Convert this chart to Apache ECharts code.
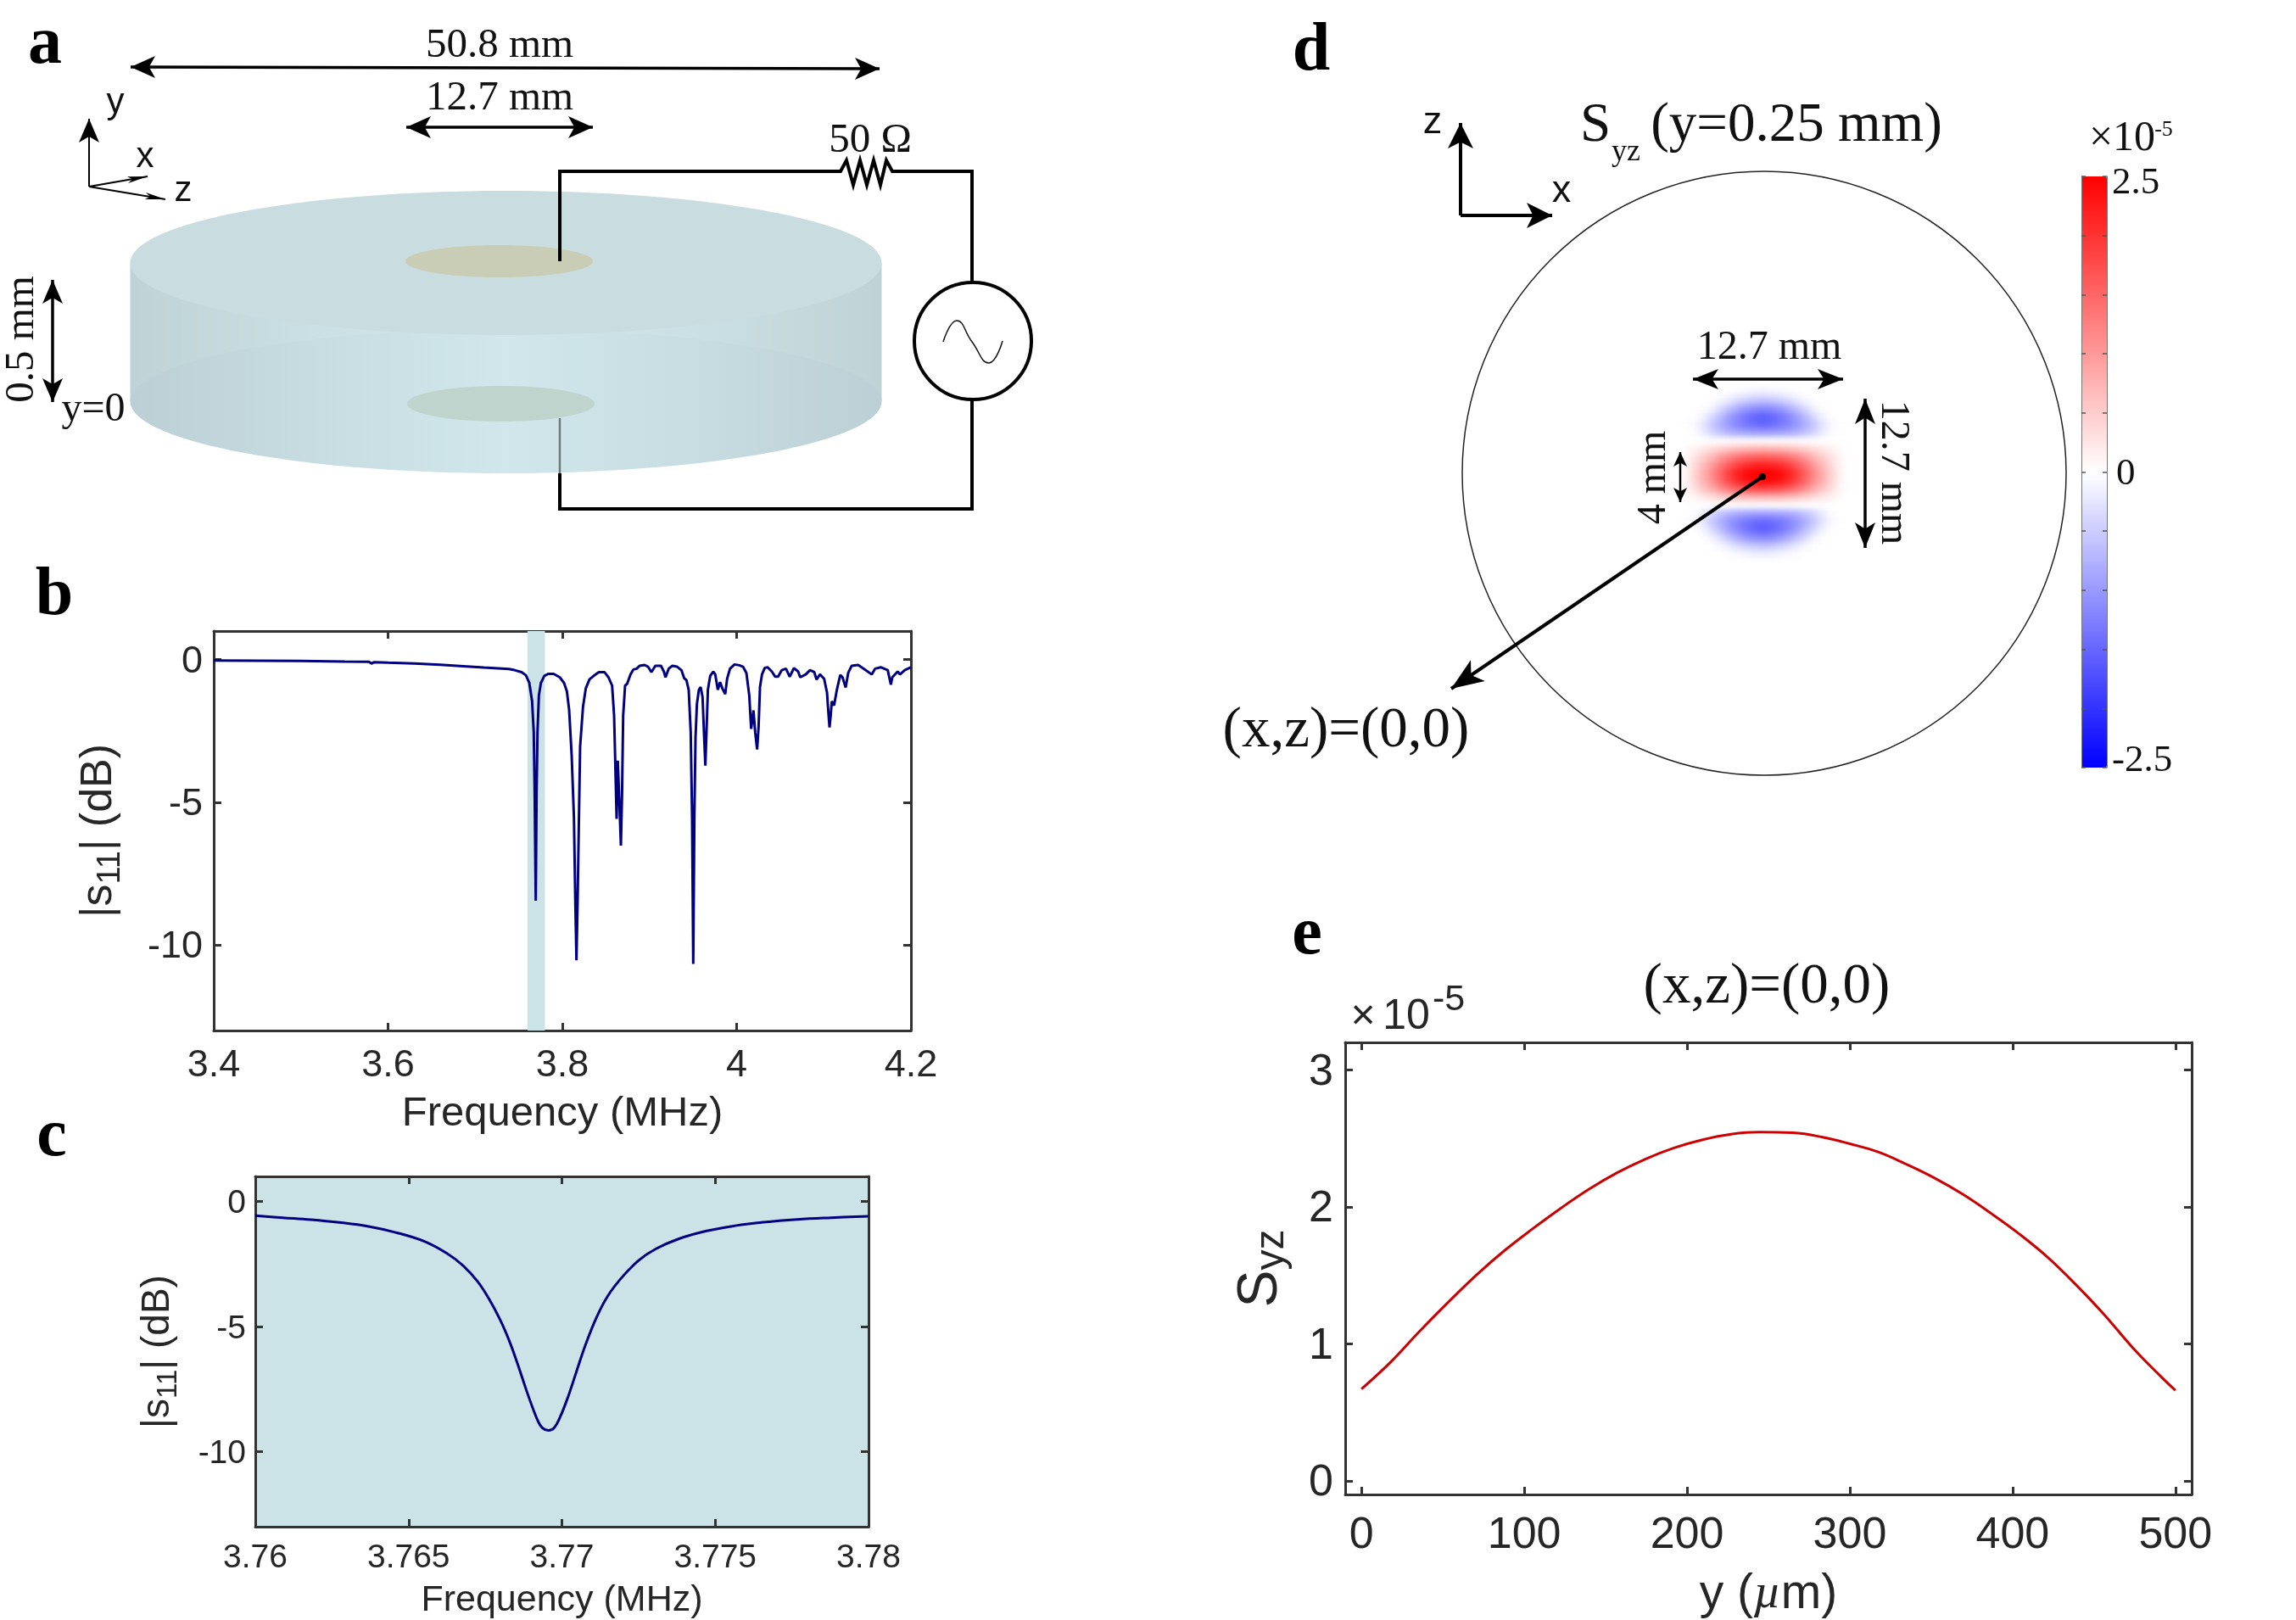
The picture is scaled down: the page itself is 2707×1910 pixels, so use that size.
<!DOCTYPE html>
<html>
<head>
<meta charset="utf-8">
<title>Panels a-e</title>
<script src="https://cdn.jsdelivr.net/npm/echarts@6/dist/echarts.min.js"></script>
<style>
  html, body { margin: 0; background: #fff; }
  #heat { position: absolute; left: 1974px; top: 458px; width: 210px; height: 200px; filter: blur(3.5px); }
  #main { position: absolute; left: 0; top: 0; width: 2707px; height: 1910px; }
</style>
</head>
<body>
<div id="heat"></div>
<div id="main"></div>
<script>
// panel b: wide sweep
var bFreq = [3.4, 3.45, 3.5, 3.55, 3.578, 3.581, 3.584, 3.6, 3.63, 3.66, 3.69, 3.71, 3.7387, 3.7452, 3.7533, 3.7582, 3.7621, 3.7653, 3.7672, 3.7682, 3.7695, 3.7705, 3.7715, 3.7731, 3.7754, 3.7793, 3.7841, 3.79, 3.797, 3.802, 3.8052, 3.8078, 3.8107, 3.8133, 3.8149, 3.8162, 3.8175, 3.8188, 3.8204, 3.8237, 3.8269, 3.8312, 3.836, 3.8419, 3.8483, 3.8529, 3.8571, 3.8594, 3.8613, 3.8623, 3.8636, 3.8646, 3.8655, 3.8672, 3.8685, 3.8698, 3.872, 3.8743, 3.8782, 3.8814, 3.8853, 3.8886, 3.8944, 3.8983, 3.9022, 3.9067, 3.9132, 3.9165, 3.9184, 3.922, 3.9262, 3.9317, 3.9366, 3.9398, 3.9424, 3.945, 3.9473, 3.9489, 3.9502, 3.9515, 3.9528, 3.9544, 3.9567, 3.9587, 3.9609, 3.9625, 3.9641, 3.9654, 3.967, 3.9697, 3.9732, 3.9755, 3.9784, 3.981, 3.9836, 3.9869, 3.9891, 3.9924, 3.9976, 4.0031, 4.0073, 4.0112, 4.0145, 4.0167, 4.0193, 4.0213, 4.0235, 4.0252, 4.0268, 4.0291, 4.0323, 4.0356, 4.0404, 4.0443, 4.0476, 4.0518, 4.0566, 4.0609, 4.0657, 4.0706, 4.0729, 4.0793, 4.0842, 4.0891, 4.0917, 4.0956, 4.1004, 4.1037, 4.1053, 4.1066, 4.1079, 4.1092, 4.1118, 4.115, 4.1189, 4.1215, 4.1251, 4.128, 4.1319, 4.1394, 4.1459, 4.155, 4.1588, 4.1653, 4.1734, 4.177, 4.1786, 4.1848, 4.1874, 4.1929, 4.2];
var bDb = [-0.03, -0.04, -0.05, -0.07, -0.08, -0.14, -0.09, -0.11, -0.14, -0.18, -0.24, -0.28, -0.33, -0.37, -0.44, -0.55, -0.82, -1.46, -2.55, -4.54, -8.45, -4.54, -2.55, -1.26, -0.82, -0.57, -0.5, -0.5, -0.62, -0.82, -1.11, -1.76, -3.35, -5.53, -8.5, -10.54, -8.5, -6.02, -3.05, -1.66, -1.01, -0.69, -0.57, -0.44, -0.44, -0.62, -0.91, -1.96, -4.34, -5.58, -3.54, -3.59, -5.03, -6.52, -4.73, -1.96, -0.91, -0.85, -0.52, -0.35, -0.32, -0.22, -0.19, -0.25, -0.44, -0.22, -0.22, -0.42, -0.62, -0.32, -0.22, -0.25, -0.37, -0.65, -0.72, -1.06, -2.55, -5.53, -10.67, -5.53, -2.75, -1.56, -1.06, -0.96, -1.31, -2.55, -3.72, -2.55, -1.06, -0.57, -0.42, -0.52, -1.06, -0.79, -1.01, -1.21, -0.67, -0.32, -0.17, -0.2, -0.25, -0.47, -1.26, -2.43, -1.78, -2.55, -3.15, -2.35, -0.96, -0.52, -0.29, -0.27, -0.42, -0.6, -0.6, -0.37, -0.32, -0.6, -0.3, -0.42, -0.62, -0.52, -0.37, -0.44, -0.7, -0.52, -0.67, -1.16, -1.86, -2.38, -1.96, -1.46, -1.61, -1.06, -0.54, -0.62, -0.98, -0.47, -0.22, -0.19, -0.32, -0.52, -0.32, -0.27, -0.37, -0.88, -0.62, -0.42, -0.52, -0.37, -0.27];
var bXTicks = [3.4, 3.6, 3.8, 4, 4.2];
var bandRange = [3.76, 3.78];

// panel c: zoom on the first resonance
var cFreq = [3.76, 3.76089, 3.76181, 3.76274, 3.76366, 3.76458, 3.7655, 3.76624, 3.76679, 3.76725, 3.76762, 3.76799, 3.76827, 3.76854, 3.76882, 3.76905, 3.76924, 3.76937, 3.76956, 3.76974, 3.76993, 3.7702, 3.77048, 3.77076, 3.77113, 3.7715, 3.77196, 3.77251, 3.77306, 3.7738, 3.77472, 3.77565, 3.77657, 3.77767, 3.77878, 3.78];
var cDb = [-0.57, -0.65, -0.73, -0.84, -0.99, -1.24, -1.59, -2.07, -2.58, -3.2, -3.89, -4.74, -5.53, -6.44, -7.47, -8.26, -8.83, -9.06, -9.15, -9.06, -8.65, -7.81, -6.78, -5.76, -4.63, -3.77, -3.03, -2.35, -1.9, -1.5, -1.18, -0.97, -0.83, -0.72, -0.65, -0.59];
var cXTicks = [3.76, 3.765, 3.77, 3.775, 3.78];
var dbTicks = [-10, -5, 0];

// panel e: strain through the thickness
var eY = [0, 18.2, 35.6, 53, 70.4, 87.8, 105.2, 122.5, 140, 157.3, 174.7, 192, 209.6, 227, 244.3, 265, 282.6, 300, 317.4, 334.8, 352, 369.6, 387, 404.3, 421.7, 439, 456.5, 473.9, 491.2, 500];
var eS = [0.67, 0.87, 1.09, 1.3, 1.5, 1.68, 1.84, 1.99, 2.13, 2.25, 2.35, 2.43, 2.49, 2.53, 2.545, 2.54, 2.51, 2.46, 2.4, 2.31, 2.21, 2.09, 1.95, 1.8, 1.63, 1.43, 1.21, 0.97, 0.76, 0.66];
var eXTicks = [0, 100, 200, 300, 400, 500];
var eYTicks = [0, 1, 2, 3];

// panel d: Syz (x1e-5), rows top to bottom, columns left to right
var syzRows = [
  [0, 0, 0, 0, 0, 0, -0.03, -0.07, -0.12, -0.16, -0.18, -0.16, -0.12, -0.07, -0.03, 0, 0, 0, 0, 0, 0],
  [0, 0, 0, 0, -0.02, -0.1, -0.22, -0.36, -0.48, -0.56, -0.6, -0.56, -0.48, -0.36, -0.22, -0.1, -0.02, 0, 0, 0, 0],
  [0, 0, 0, -0.02, -0.14, -0.36, -0.6, -0.82, -1, -1.12, -1.16, -1.12, -1, -0.82, -0.6, -0.36, -0.14, -0.02, 0, 0, 0],
  [0, 0, -0.02, -0.14, -0.38, -0.66, -0.94, -1.18, -1.36, -1.5, -1.58, -1.5, -1.36, -1.18, -0.94, -0.66, -0.38, -0.14, -0.02, 0, 0],
  [0, -0.02, -0.08, -0.28, -0.55, -0.8, -1.02, -1.2, -1.34, -1.44, -1.5, -1.44, -1.34, -1.2, -1.02, -0.8, -0.55, -0.28, -0.08, -0.02, 0],
  [0, 0, -0.05, -0.2, -0.42, -0.6, -0.75, -0.85, -0.9, -0.94, -0.95, -0.94, -0.9, -0.85, -0.75, -0.6, -0.42, -0.2, -0.05, 0, 0],
  [0, 0, 0, 0, 0, 0, 0, 0, 0, 0, 0, 0, 0, 0, 0, 0, 0, 0, 0, 0, 0],
  [0, 0.05, 0.14, 0.24, 0.35, 0.47, 0.57, 0.66, 0.72, 0.75, 0.76, 0.75, 0.72, 0.66, 0.57, 0.47, 0.35, 0.24, 0.14, 0.05, 0],
  [0.01, 0.09, 0.28, 0.5, 0.71, 0.96, 1.18, 1.36, 1.49, 1.55, 1.58, 1.55, 1.49, 1.36, 1.18, 0.96, 0.71, 0.5, 0.28, 0.09, 0.01],
  [0.01, 0.13, 0.38, 0.68, 0.98, 1.32, 1.62, 1.87, 2.04, 2.13, 2.17, 2.13, 2.04, 1.87, 1.62, 1.32, 0.98, 0.68, 0.38, 0.13, 0.01],
  [0.01, 0.15, 0.45, 0.8, 1.15, 1.55, 1.9, 2.2, 2.4, 2.5, 2.5, 2.5, 2.4, 2.2, 1.9, 1.55, 1.15, 0.8, 0.45, 0.15, 0.01],
  [0.01, 0.14, 0.43, 0.76, 1.09, 1.47, 1.8, 2.09, 2.28, 2.38, 2.42, 2.38, 2.28, 2.09, 1.8, 1.47, 1.09, 0.76, 0.43, 0.14, 0.01],
  [0.01, 0.1, 0.32, 0.56, 0.8, 1.08, 1.33, 1.54, 1.68, 1.75, 1.78, 1.75, 1.68, 1.54, 1.33, 1.08, 0.8, 0.56, 0.32, 0.1, 0.01],
  [0, 0.04, 0.13, 0.22, 0.32, 0.43, 0.53, 0.62, 0.67, 0.7, 0.71, 0.7, 0.67, 0.62, 0.53, 0.43, 0.32, 0.22, 0.13, 0.04, 0],
  [0, 0, 0, 0, 0, 0, 0, 0, 0, 0, 0, 0, 0, 0, 0, 0, 0, 0, 0, 0, 0],
  [0, 0, -0.05, -0.2, -0.42, -0.6, -0.75, -0.85, -0.9, -0.94, -0.95, -0.94, -0.9, -0.85, -0.75, -0.6, -0.42, -0.2, -0.05, 0, 0],
  [0, -0.02, -0.08, -0.28, -0.55, -0.8, -1.02, -1.2, -1.34, -1.44, -1.5, -1.44, -1.34, -1.2, -1.02, -0.8, -0.55, -0.28, -0.08, -0.02, 0],
  [0, 0, -0.02, -0.14, -0.38, -0.66, -0.94, -1.18, -1.36, -1.5, -1.58, -1.5, -1.36, -1.18, -0.94, -0.66, -0.38, -0.14, -0.02, 0, 0],
  [0, 0, 0, -0.02, -0.14, -0.36, -0.6, -0.82, -1, -1.12, -1.16, -1.12, -1, -0.82, -0.6, -0.36, -0.14, -0.02, 0, 0, 0],
  [0, 0, 0, 0, -0.02, -0.1, -0.22, -0.36, -0.48, -0.56, -0.6, -0.56, -0.48, -0.36, -0.22, -0.1, -0.02, 0, 0, 0, 0],
  [0, 0, 0, 0, 0, 0, -0.03, -0.07, -0.12, -0.16, -0.18, -0.16, -0.12, -0.07, -0.03, 0, 0, 0, 0, 0, 0]
];
var colorbarTicks = [-2.5, 0, 2.5];
var syzColors = ["#0000ff", "#ffffff", "#ff0000"];

var SANS = "Liberation Sans";
var SERIF = "Liberation Serif";
var AXIS_COLOR = "#333333";
var TEXT_COLOR = "#262626";

function zip(a, b) {
  return a.map(function (v, i) {
    return [v, b[i]];
  });
}

// MATLAB style box: one axis with labels, a second one opposite with ticks only
function boxAxis(gridIndex, position, min, max, ticks, o) {
  var primary = position === "bottom" || position === "left";
  var labelStyle = { fontFamily: SANS, fontSize: o.labelSize, color: TEXT_COLOR };
  var axisLabel = Object.assign({ show: primary, customValues: ticks, margin: o.margin }, labelStyle);
  if (o.labelDrop) {
    // y labels sit a little below their ticks in the original
    axisLabel.formatter = function (v) {
      return "{v|" + v + "}";
    };
    axisLabel.rich = { v: Object.assign({ padding: [o.labelDrop, 0, 0, 0] }, labelStyle) };
  }
  return {
    type: "value",
    gridIndex: gridIndex,
    position: position,
    min: min,
    max: max,
    name: primary ? o.name : "",
    nameLocation: "middle",
    nameGap: o.nameGap,
    nameMoveOverlap: false,
    nameTextStyle: { fontFamily: SANS, fontSize: o.nameSize, color: TEXT_COLOR, rich: o.rich },
    splitLine: { show: false },
    axisLine: { onZero: false, lineStyle: { color: AXIS_COLOR, width: 3 } },
    axisTick: { inside: true, length: 9, customValues: ticks, lineStyle: { color: AXIS_COLOR, width: 3 } },
    axisLabel: axisLabel
  };
}

// schematic helpers: all of this is drawing, not data
function txt(x, base, str, size, extra) {
  var e = extra || {};
  return {
    type: "text",
    silent: true,
    z: 50,
    x: x,
    y: base - 0.26 * size,
    style: {
      text: str,
      fontFamily: e.family || SERIF,
      fontSize: size,
      fontWeight: e.weight || "normal",
      fill: e.fill || "#111111",
      align: "center",
      verticalAlign: "middle"
    }
  };
}

// text turned by a quarter, placed by its centre
function turned(x, y, str, size, rotation) {
  var t = txt(x, y, str, size);
  t.y = y;
  t.rotation = rotation;
  return t;
}

function line(points, width, color) {
  return {
    type: "polyline",
    silent: true,
    z: 40,
    shape: { points: points },
    style: { stroke: color || "#000000", lineWidth: width, fill: "none", lineJoin: "miter" }
  };
}

function head(x1, y1, x2, y2, len, half) {
  // arrow head with its tip on (x2, y2), coming from (x1, y1)
  var d = Math.sqrt((x2 - x1) * (x2 - x1) + (y2 - y1) * (y2 - y1));
  var ux = (x2 - x1) / d, uy = (y2 - y1) / d;
  return {
    type: "polygon",
    silent: true,
    z: 41,
    shape: {
      points: [
        [x2, y2],
        [x2 - ux * len - uy * half, y2 - uy * len + ux * half],
        [x2 - ux * len * 0.75, y2 - uy * len * 0.75],
        [x2 - ux * len + uy * half, y2 - uy * len - ux * half]
      ]
    },
    style: { fill: "#000000" }
  };
}

function arrow2(x1, y1, x2, y2, width, len, half) {
  return [line([[x1, y1], [x2, y2]], width), head(x1, y1, x2, y2, len, half), head(x2, y2, x1, y1, len, half)];
}

function arrow1(x1, y1, x2, y2, width, len, half) {
  return [line([[x1, y1], [x2, y2]], width), head(x1, y1, x2, y2, len, half)];
}

function ell(cx, cy, rx, ry, fill, z) {
  return { type: "ellipse", silent: true, z: z, shape: { cx: cx, cy: cy, rx: rx, ry: ry }, style: { fill: fill } };
}

var sideFill = {
  type: "linear", x: 0, y: 0, x2: 1, y2: 0,
  colorStops: [
    { offset: 0, color: "#bfd3d7" },
    { offset: 0.25, color: "#cbe0e4" },
    { offset: 0.5, color: "#d2e8ec" },
    { offset: 0.75, color: "#cbe0e4" },
    { offset: 1, color: "#bfd3d7" }
  ]
};
var rimFill = {
  type: "linear", x: 0, y: 0, x2: 1, y2: 0,
  colorStops: [
    { offset: 0, color: "rgba(165,190,196,0.15)" },
    { offset: 0.5, color: "rgba(165,190,196,0.03)" },
    { offset: 1, color: "rgba(165,190,196,0.15)" }
  ]
};

var schematic = [].concat(
  // panel letters
  txt(53, 74, "a", 80, { weight: "bold", fill: "#000" }),
  txt(64, 724, "b", 80, { weight: "bold", fill: "#000" }),
  txt(61, 1362, "c", 80, { weight: "bold", fill: "#000" }),
  txt(1546, 82, "d", 80, { weight: "bold", fill: "#000" }),
  txt(1541, 1124, "e", 80, { weight: "bold", fill: "#000" }),

  // panel a: disk
  ell(596.5, 473, 443, 85, sideFill, 10),
  { type: "rect", silent: true, z: 10, shape: { x: 153.5, y: 310, width: 886, height: 163 }, style: { fill: sideFill } },
  ell(596.5, 473, 443, 85, rimFill, 11),
  ell(596.5, 310, 443, 85, "#c9dde1", 12),
  ell(588.5, 308, 110.5, 19, "#c9cdb5", 13),
  ell(590.5, 476, 110.5, 21, "#bfd4cd", 13),

  // panel a: circuit
  line([[660, 308], [660, 202], [991, 202], [998, 189], [1006, 218], [1014, 189], [1022, 218], [1030, 189], [1038, 218], [1045, 189], [1052, 202], [1146, 202], [1146, 333]], 4),
  line([[1146, 471], [1146, 600], [660, 600], [660, 558]], 4),
  line([[660, 558], [660, 493]], 2.5, "#6d7a7c"),
  { type: "circle", silent: true, z: 40, shape: { cx: 1147, cy: 402, r: 69 }, style: { fill: "#fff", stroke: "#000", lineWidth: 4 } },
  { type: "polyline", silent: true, z: 41, shape: { points: [[1112, 403], [1128, 378], [1146, 403], [1166, 428], [1182, 402]], smooth: 0.5 }, style: { stroke: "#111", lineWidth: 1.5, fill: "none" } },

  // panel a: dimensions and axes
  arrow2(154, 79, 1037, 81, 3.5, 29, 13),
  arrow2(479, 150, 699, 150, 3.5, 29, 13),
  arrow2(62, 330, 62, 474, 3.5, 28, 12),
  arrow1(105, 220, 105, 140, 2, 28, 12),
  arrow1(105, 220, 174, 208, 2, 24, 4),
  arrow1(105, 220, 195, 235, 2, 24, 4),
  txt(589, 67, "50.8 mm", 49),
  txt(589, 129, "12.7 mm", 49),
  txt(1026, 179, "50 \u03a9", 49),
  txt(110, 496, "y=0", 48),
  turned(26, 400, "0.5 mm", 49, Math.PI / 2),
  txt(136, 132, "y", 42, { family: SANS }),
  txt(171, 196, "x", 42, { family: SANS }),
  txt(216, 236, "z", 42, { family: SANS }),

  // panel d: outline, axes and labels
  { type: "circle", silent: true, z: 30, shape: { cx: 2080, cy: 558, r: 356 }, style: { fill: "transparent", stroke: "#222", lineWidth: 1.5 } },
  arrow1(1722, 254, 1722, 145, 4, 30, 15),
  arrow1(1722, 254, 1830, 254, 4, 30, 15),
  arrow2(1996, 447, 2173, 447, 3.5, 30, 12),
  arrow2(2199, 470, 2199, 646, 3.5, 30, 12),
  arrow2(1981, 533, 1981, 592, 2.5, 17, 8),
  arrow1(2078, 562, 1711, 812, 4, 38, 15),
  { type: "circle", silent: true, z: 42, shape: { cx: 2078, cy: 562, r: 4 }, style: { fill: "#000" } },
  txt(1689, 156, "z", 45, { family: SANS }),
  txt(1841, 237, "x", 45, { family: SANS }),
  txt(1881, 166, "S", 65),
  txt(1917, 189, "yz", 36),
  txt(2118, 166, "(y=0.25 mm)", 65),
  txt(2086, 423, "12.7 mm", 48),
  turned(1950, 563, "4 mm", 48, Math.PI / 2),
  turned(2232, 557, "12.7 mm", 48, -Math.PI / 2),
  txt(1587, 880, "(x,z)=(0,0)", 67),
  txt(2502, 177, "\u00d710", 50),
  txt(2551, 160, "-5", 26),

  // panel e: title and exponent
  txt(2083, 1182, "(x,z)=(0,0)", 67),
  txt(1607, 1212, "\u00d7", 50, { family: SANS, fill: TEXT_COLOR }),
  txt(1658, 1212, "10", 50, { family: SANS, fill: TEXT_COLOR }),
  txt(1708, 1190, "-5", 43, { family: SANS, fill: TEXT_COLOR })
);

var bOpts = { name: "Frequency (MHz)", nameGap: 74, nameSize: 49, margin: 19, labelSize: 45 };
var bYOpts = { name: "|s{sub|11}| (dB)", nameGap: 102, nameSize: 52, margin: 13, labelSize: 45, labelDrop: 6, rich: { sub: { fontSize: 38, fontFamily: SANS, color: TEXT_COLOR, verticalAlign: "bottom", padding: [28, 0, 0, 0] } } };
var cOpts = { name: "Frequency (MHz)", nameGap: 66, nameSize: 43, margin: 18, labelSize: 39 };
var cYOpts = { name: "|s{sub|11}| (dB)", nameGap: 86, nameSize: 46, margin: 11, labelSize: 39, labelDrop: 6, rich: { sub: { fontSize: 33, fontFamily: SANS, color: TEXT_COLOR, verticalAlign: "bottom", padding: [25, 0, 0, 0] } } };
var eOpts = { name: "y ({mu|\u00b5}m)", nameGap: 90, nameSize: 57, margin: 23, labelSize: 52, rich: { mu: { fontSize: 57, fontFamily: SERIF, fontStyle: "italic", color: TEXT_COLOR } } };
var eYOpts = { name: "S{sub|yz}", nameGap: 62, nameSize: 66, margin: 14, labelSize: 52, labelDrop: 6, rich: { sub: { fontSize: 48, fontFamily: SANS, color: TEXT_COLOR, verticalAlign: "bottom", padding: [26, 0, 0, 0] } } };

var colorbarAxis = {
  type: "value",
  gridIndex: 3,
  min: -2.5,
  max: 2.5,
  interval: 0.5,
  z: 6,
  splitLine: { show: false },
  axisLine: { onZero: false, lineStyle: { color: "#777777", width: 1 } },
  axisTick: { inside: true, length: 5, lineStyle: { color: "#555555", width: 1.5 } }
};
var colorbarText = { fontFamily: SERIF, fontSize: 45, color: "#111111" };

var option = {
  backgroundColor: "transparent",
  animation: false,
  grid: [
    { left: 252, top: 744, width: 822, height: 471, outerBoundsMode: "none" },
    { left: 301, top: 1387, width: 723, height: 413, outerBoundsMode: "none", show: true, backgroundColor: "#cbe2e7", borderWidth: 0 },
    { left: 1586, top: 1229, width: 998, height: 533, outerBoundsMode: "none" },
    { left: 2454, top: 208, width: 30, height: 697, outerBoundsMode: "none" }
  ],
  xAxis: [
    boxAxis(0, "bottom", 3.4, 4.2, bXTicks, bOpts),
    boxAxis(0, "top", 3.4, 4.2, bXTicks, bOpts),
    boxAxis(1, "bottom", 3.76, 3.78, cXTicks, cOpts),
    boxAxis(1, "top", 3.76, 3.78, cXTicks, cOpts),
    boxAxis(2, "bottom", -10, 510, eXTicks, eOpts),
    boxAxis(2, "top", -10, 510, eXTicks, eOpts),
    { type: "value", gridIndex: 3, show: false, min: 0, max: 1 }
  ],
  yAxis: [
    boxAxis(0, "left", -13, 1, dbTicks, bYOpts),
    boxAxis(0, "right", -13, 1, dbTicks, bYOpts),
    boxAxis(1, "left", -13, 1, dbTicks, cYOpts),
    boxAxis(1, "right", -13, 1, dbTicks, cYOpts),
    boxAxis(2, "left", -0.1, 3.2, eYTicks, eYOpts),
    boxAxis(2, "right", -0.1, 3.2, eYTicks, eYOpts),
    Object.assign({}, colorbarAxis, {
      position: "right",
      axisLabel: {
        customValues: colorbarTicks,
        margin: 6,
        formatter: function (v) {
          return (v > 0 ? "{top|" : v < 0 ? "{low|" : "{mid|") + v + "}";
        },
        rich: {
          top: Object.assign({ padding: [16, 0, 0, 0] }, colorbarText),
          mid: Object.assign({ padding: [6, 0, 0, 5] }, colorbarText),
          low: Object.assign({ padding: [0, 0, 16, 0] }, colorbarText)
        }
      }
    }),
    Object.assign({}, colorbarAxis, { position: "left", axisLabel: { show: false } })
  ],
  // colour bar only: the field itself sits in the chart underneath
  visualMap: {
    type: "continuous",
    seriesIndex: [],
    min: -2.5,
    max: 2.5,
    left: 2454,
    top: 208,
    padding: 0,
    itemWidth: 30,
    itemHeight: 697,
    calculable: false,
    hoverLink: false,
    text: null,
    inRange: { color: syzColors }
  },
  series: [
    {
      type: "line",
      xAxisIndex: 0,
      yAxisIndex: 0,
      showSymbol: false,
      data: zip(bFreq, bDb),
      lineStyle: { color: "#000080", width: 3 },
      markArea: {
        silent: true,
        itemStyle: { color: "#cbe2e7" },
        data: [[{ xAxis: bandRange[0] }, { xAxis: bandRange[1] }]]
      }
    },
    {
      type: "line",
      xAxisIndex: 2,
      yAxisIndex: 2,
      showSymbol: false,
      smooth: 0.4,
      data: zip(cFreq, cDb),
      lineStyle: { color: "#000080", width: 3 }
    },
    {
      type: "line",
      xAxisIndex: 4,
      yAxisIndex: 4,
      showSymbol: false,
      smooth: 0.4,
      data: zip(eY, eS),
      lineStyle: { color: "#cc0000", width: 3 }
    }
  ],
  graphic: { elements: schematic }
};

echarts.init(document.getElementById("main")).setOption(option);

// field map in its own instance so the page can soften the cells
var heatData = [];
syzRows.forEach(function (row, r) {
  row.forEach(function (v, c) {
    heatData.push([c, r, v]);
  });
});
var heatChart = echarts.init(document.getElementById("heat"));
heatChart.setOption({
  animation: false,
  grid: { left: 0, right: 0, top: 0, bottom: 0, outerBoundsMode: "none" },
  xAxis: { type: "category", show: false, data: syzRows[0].map(function (v, i) { return i; }) },
  yAxis: { type: "category", show: false, inverse: true, data: syzRows.map(function (v, i) { return i; }) },
  visualMap: { show: false, min: -2.5, max: 2.5, inRange: { color: syzColors } },
  series: [{ type: "heatmap", data: heatData, progressive: 0 }]
});
</script>
</body>
</html>
